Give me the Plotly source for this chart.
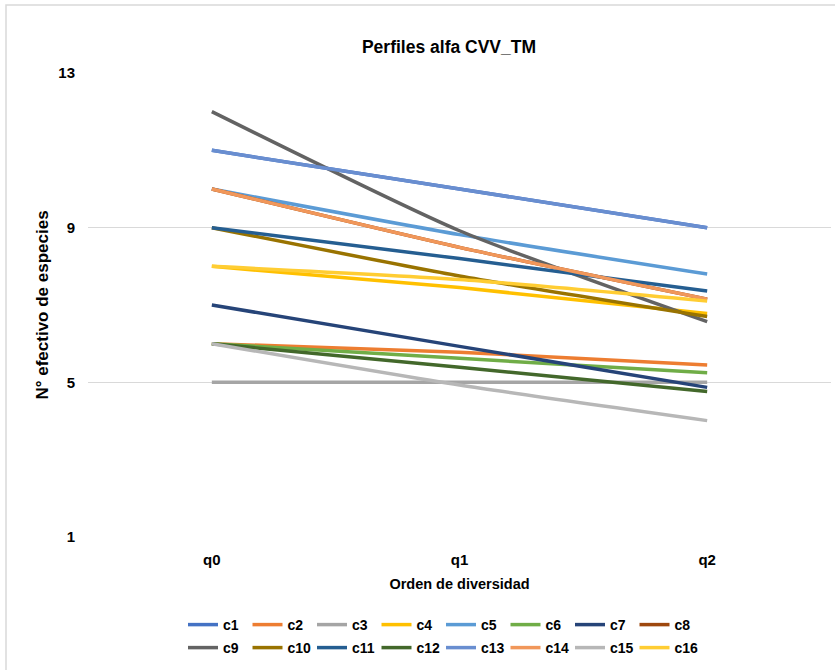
import plotly.graph_objects as go

# Diversity orders (Hill numbers) on the x axis
orders = ["q0", "q1", "q2"]

# Effective number of species per community at q0, q1, q2
c1 = [11.0, 10.0, 9.0]
c2 = [6.0, 5.78, 5.45]
c3 = [5.0, 5.0, 5.0]
c4 = [8.0, 7.45, 6.78]
c5 = [10.0, 8.82, 7.8]
c6 = [6.0, 5.62, 5.25]
c7 = [7.0, 5.93, 4.87]
c8 = [10.0, 8.49, 7.15]
c9 = [12.0, 8.92, 6.57]
c10 = [9.0, 7.75, 6.7]
c11 = [9.0, 8.2, 7.36]
c12 = [6.0, 5.39, 4.76]
c13 = [11.0, 10.0, 9.0]
c14 = [10.0, 8.49, 7.15]
c15 = [6.0, 4.93, 4.01]
c16 = [8.0, 7.66, 7.1]

series = {
    "c1": c1, "c2": c2, "c3": c3, "c4": c4,
    "c5": c5, "c6": c6, "c7": c7, "c8": c8,
    "c9": c9, "c10": c10, "c11": c11, "c12": c12,
    "c13": c13, "c14": c14, "c15": c15, "c16": c16,
}

colors = [
    "#4472C4", "#ED7D31", "#A5A5A5", "#FFC000",
    "#5B9BD5", "#70AD47", "#264478", "#9E480E",
    "#636363", "#997300", "#255E91", "#43682B",
    "#698ED0", "#F1975A", "#B7B7B7", "#FFCD33",
]

y_ticks = [1, 5, 9, 13]

FONT = "Liberation Sans, Arial, sans-serif"

fig = go.Figure()
for i, (name, vals) in enumerate(series.items()):
    fig.add_trace(go.Scatter(
        x=orders, y=vals, name=name, mode="lines",
        line=dict(color=colors[i], width=3.5, shape="spline", smoothing=0.6),
        legend="legend" if i < 8 else "legend2",
        hoverinfo="x+y+name",
    ))

W, H = 835, 670
L, R, T, B = 88, 4, 73, 133

legend_style = dict(
    orientation="h", xref="container", yref="container",
    x=183 / W, xanchor="left", yanchor="top",
    font=dict(family=FONT, size=14, color="#000000", weight="bold"),
    itemwidth=30, entrywidth=19.5, tracegroupgap=0,
    bgcolor="rgba(0,0,0,0)",
)

fig.update_layout(
    width=W, height=H,
    margin=dict(l=L, r=R, t=T, b=B),
    paper_bgcolor="white", plot_bgcolor="white",
    font=dict(family=FONT, color="#000000"),
    title=dict(
        text="Perfiles alfa CVV_TM",
        font=dict(family=FONT, size=17.5, color="#000000", weight="bold"),
        x=(449 / W), xref="container", xanchor="center",
        y=1 - 47 / H, yref="container", yanchor="middle",
    ),
    xaxis=dict(
        type="category", range=[-0.5, 2.5],
        showgrid=False, showline=False, zeroline=False,
        tickfont=dict(family=FONT, size=15, color="#000000", weight="bold"),
        ticklabelstandoff=12,
        title=dict(text="Orden de diversidad",
                   font=dict(family=FONT, size=14.5, color="#000000", weight="bold"),
                   standoff=11),
    ),
    yaxis=dict(
        range=[1, 13], tickvals=y_ticks,
        showgrid=True, gridcolor="#D9D9D9", gridwidth=1,
        showline=False, zeroline=False,
        tickfont=dict(family=FONT, size=15, color="#000000", weight="bold"),
        ticklabelstandoff=12,
        title=dict(text="N° efectivo de especies",
                   font=dict(family=FONT, size=17, color="#000000", weight="bold"),
                   standoff=5),
    ),
    legend=dict(legend_style, y=1 - 609 / H),
    legend2=dict(legend_style, y=1 - 632 / H),
    shapes=[
        # outer chart frame
        dict(type="rect", xref="paper", yref="paper",
             x0=(6 - L) / (W - L - R), x1=1.2,
             y0=-0.5, y1=1 + (T - 5) / (H - T - B),
             line=dict(color="#D9D9D9", width=1.5), layer="below"),
    ],
)

fig.write_html("out.html")
